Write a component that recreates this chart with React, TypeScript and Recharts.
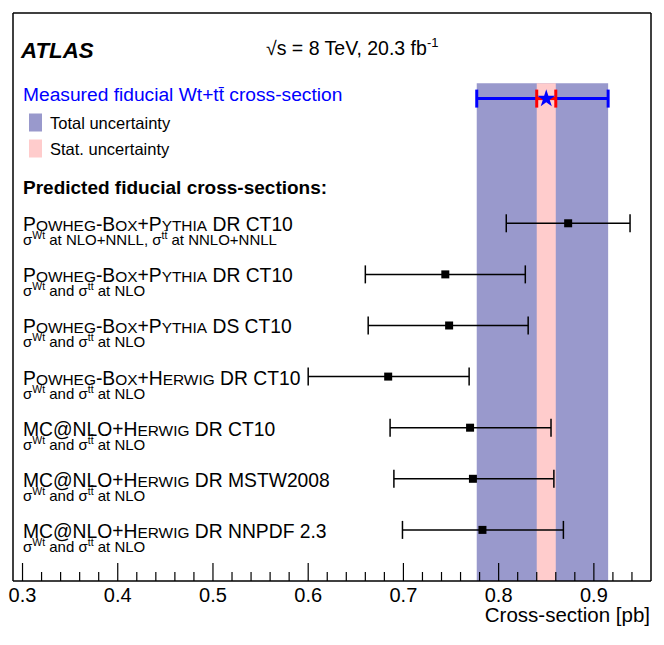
import React from "react";
import {
  ScatterChart,
  Scatter,
  XAxis,
  YAxis,
  ErrorBar,
  ReferenceArea,
  Symbols,
} from "recharts";

const FONT = '"Liberation Sans", Arial, Helvetica, sans-serif';

// predictions, top to bottom
const generators = [
  "Powheg-Box+Pythia",
  "Powheg-Box+Pythia",
  "Powheg-Box+Pythia",
  "Powheg-Box+Herwig",
  "MC@NLO+Herwig",
  "MC@NLO+Herwig",
  "MC@NLO+Herwig",
];
const setups = ["DR CT10", "DR CT10", "DS CT10", "DR CT10", "DR CT10", "DR MSTW2008", "DR NNPDF 2.3"];
const orders = [
  "σ^{Wt} at NLO+NNLL, σ^{tt̄} at NNLO+NNLL",
  "σ^{Wt} and σ^{tt̄} at NLO",
  "σ^{Wt} and σ^{tt̄} at NLO",
  "σ^{Wt} and σ^{tt̄} at NLO",
  "σ^{Wt} and σ^{tt̄} at NLO",
  "σ^{Wt} and σ^{tt̄} at NLO",
  "σ^{Wt} and σ^{tt̄} at NLO",
];
const predCentral = [0.873, 0.744, 0.748, 0.684, 0.770, 0.773, 0.783];
const predLow = [0.808, 0.660, 0.663, 0.600, 0.686, 0.690, 0.699];
const predHigh = [0.938, 0.828, 0.831, 0.769, 0.855, 0.858, 0.868];
const rows = [0, 1, 2, 3, 4, 5, 6];

// measurement
const measCentral = 0.85;
const measStat = [0.84, 0.86];
const measTotal = [0.777, 0.915];
const measRow = -2.44;
const bandTop = -2.74;

const majorTicks = [0.3, 0.4, 0.5, 0.6, 0.7, 0.8, 0.9];
const allTicks = [
  0.3, 0.32, 0.34, 0.36, 0.38, 0.4, 0.42, 0.44, 0.46, 0.48, 0.5, 0.52, 0.54, 0.56, 0.58,
  0.6, 0.62, 0.64, 0.66, 0.68, 0.7, 0.72, 0.74, 0.76, 0.78, 0.8, 0.82, 0.84, 0.86, 0.88,
  0.9, 0.92, 0.94,
];

const predData = rows.map((r, i) => ({
  x: predCentral[i],
  y: r,
  err: [predCentral[i] - predLow[i], predHigh[i] - predCentral[i]],
}));
const measData = [
  {
    x: measCentral,
    y: measRow,
    tot: [measCentral - measTotal[0], measTotal[1] - measCentral],
    stat: [measCentral - measStat[0], measStat[1] - measCentral],
  },
];

function smallCaps(s: string, size: number) {
  const parts = s.match(/[a-z]+|[^a-z]+/g) || [];
  return parts.map((p, i) =>
    /[a-z]/.test(p) ? (
      <tspan key={i} fontSize={size * 0.8}>
        {p.toUpperCase()}
      </tspan>
    ) : (
      <tspan key={i} fontSize={size}>
        {p}
      </tspan>
    )
  );
}

function withSup(s: string, size: number) {
  const parts = s.split(/\^\{([^}]*)\}/);
  const out: React.ReactNode[] = [];
  parts.forEach((p, i) => {
    if (i % 2 === 1) {
      out.push(
        <tspan key={i} dy={-6} fontSize={size * 0.7}>
          {p}
        </tspan>
      );
    } else if (p) {
      out.push(
        <tspan key={i} dy={i > 0 ? 6 : 0} fontSize={size}>
          {p}
        </tspan>
      );
    }
  });
  return out;
}

function BottomTick(props: any) {
  const { x, y, payload } = props;
  const v = payload.value;
  const major = majorTicks.includes(v);
  return (
    <g>
      <line x1={x} x2={x} y1={y} y2={y - (major ? 18 : 9)} stroke="#000" strokeWidth={1.2} />
      {major && (
        <text x={x} y={y + 21} textAnchor="middle" fontSize={20} fontFamily={FONT} fill="#000">
          {v.toFixed(1)}
        </text>
      )}
    </g>
  );
}

function TopTick(props: any) {
  const { x, y, payload } = props;
  const major = majorTicks.includes(payload.value);
  return <line x1={x} x2={x} y1={y} y2={y + (major ? 18 : 9)} stroke="#000" strokeWidth={1.2} />;
}

function RowLabel(props: any) {
  const { y, payload } = props;
  const i = payload.value;
  return (
    <g fontFamily={FONT} fill="#000">
      <text x={23} y={y + 8} fontSize={19.3} fontFamily={FONT}>
        {smallCaps(generators[i], 19.3)}
        <tspan fontSize={19.3}> {setups[i]}</tspan>
      </text>
      <text x={23} y={y + 22} fontSize={15} fontFamily={FONT}>
        {withSup(orders[i], 15)}
      </text>
    </g>
  );
}

const square = (p: any) => <Symbols cx={p.cx} cy={p.cy} type="square" size={64} fill="#000" />;
const star = (p: any) => <Symbols cx={p.cx} cy={p.cy} type="star" size={100} fill="#0000ff" />;

export default function App() {
  return (
    <div style={{ position: "absolute", left: 0, top: 0, width: 664, height: 645, background: "#fff" }}>
      <ScatterChart width={664} height={645} margin={{ top: 12, right: 12, bottom: 24, left: 12 }}>
        <ReferenceArea x1={measTotal[0]} x2={measTotal[1]} y1={bandTop} y2={7} fill="#9999cc" fillOpacity={1} stroke="none" ifOverflow="visible" />
        <ReferenceArea x1={measStat[0]} x2={measStat[1]} y1={bandTop} y2={7} fill="#ffcccc" fillOpacity={1} stroke="none" ifOverflow="visible" />
        <XAxis
          type="number"
          dataKey="x"
          domain={[0.29, 0.96]}
          allowDataOverflow
          ticks={allTicks}
          interval={0}
          height={40}
          tickSize={0}
          tickMargin={0}
          tickLine={false}
          tick={<BottomTick />}
          axisLine={{ stroke: "#000", strokeWidth: 1.5 }}
        />
        <XAxis
          xAxisId="top"
          orientation="top"
          type="number"
          domain={[0.29, 0.96]}
          allowDataOverflow
          ticks={allTicks}
          interval={0}
          height={1}
          tickSize={0}
          tickMargin={0}
          tickLine={false}
          tick={<TopTick />}
          axisLine={{ stroke: "#000", strokeWidth: 1.5 }}
        />
        <YAxis
          type="number"
          dataKey="y"
          domain={[-4.115, 7]}
          allowDataOverflow
          reversed
          ticks={rows}
          interval={0}
          width={1}
          tickSize={0}
          tickMargin={0}
          tickLine={false}
          tick={<RowLabel />}
          axisLine={{ stroke: "#000", strokeWidth: 1.5 }}
        />
        <YAxis
          yAxisId="r"
          orientation="right"
          type="number"
          domain={[-4.115, 7]}
          width={1}
          tick={false}
          tickLine={false}
          axisLine={{ stroke: "#000", strokeWidth: 1.5 }}
        />
        <Scatter data={predData} shape={square} isAnimationActive={false}>
          <ErrorBar dataKey="err" direction="x" width={9} stroke="#000" strokeWidth={1.5} />
        </Scatter>
        <Scatter data={measData} shape={star} isAnimationActive={false}>
          <ErrorBar dataKey="tot" direction="x" width={9} stroke="#0000ff" strokeWidth={3} />
          <ErrorBar dataKey="stat" direction="x" width={9} stroke="#ff0000" strokeWidth={3} />
        </Scatter>
      </ScatterChart>
      <svg
        width={664}
        height={645}
        style={{ position: "absolute", left: 0, top: 0, pointerEvents: "none" }}
        fontFamily={FONT}
      >
        <text x={21} y={57.7} fontSize={22.3} fontWeight="bold" fontStyle="italic" fill="#000">
          ATLAS
        </text>
        <text x={266} y={54.5} fontSize={19.5} fill="#000">
          √s = 8 TeV, 20.3 fb
          <tspan dy={-8} fontSize={13}>
            -1
          </tspan>
        </text>
        <text x={23} y={101} fontSize={19.2} fill="#0000ff">
          Measured fiducial Wt+tt̄ cross-section
        </text>
        <rect x={29} y={113.5} width={13} height={18} fill="#9999cc" />
        <text x={50} y={129} fontSize={16.5} fill="#000">
          Total uncertainty
        </text>
        <rect x={29} y={139.5} width={13} height={18} fill="#ffcccc" />
        <text x={50} y={154.5} fontSize={16.5} fill="#000">
          Stat. uncertainty
        </text>
        <text x={23} y={193.5} fontSize={19} fontWeight="bold" fill="#000">
          Predicted fiducial cross-sections:
        </text>
        <text x={650} y={622} fontSize={20.5} textAnchor="end" fill="#000">
          Cross-section [pb]
        </text>
      </svg>
    </div>
  );
}
